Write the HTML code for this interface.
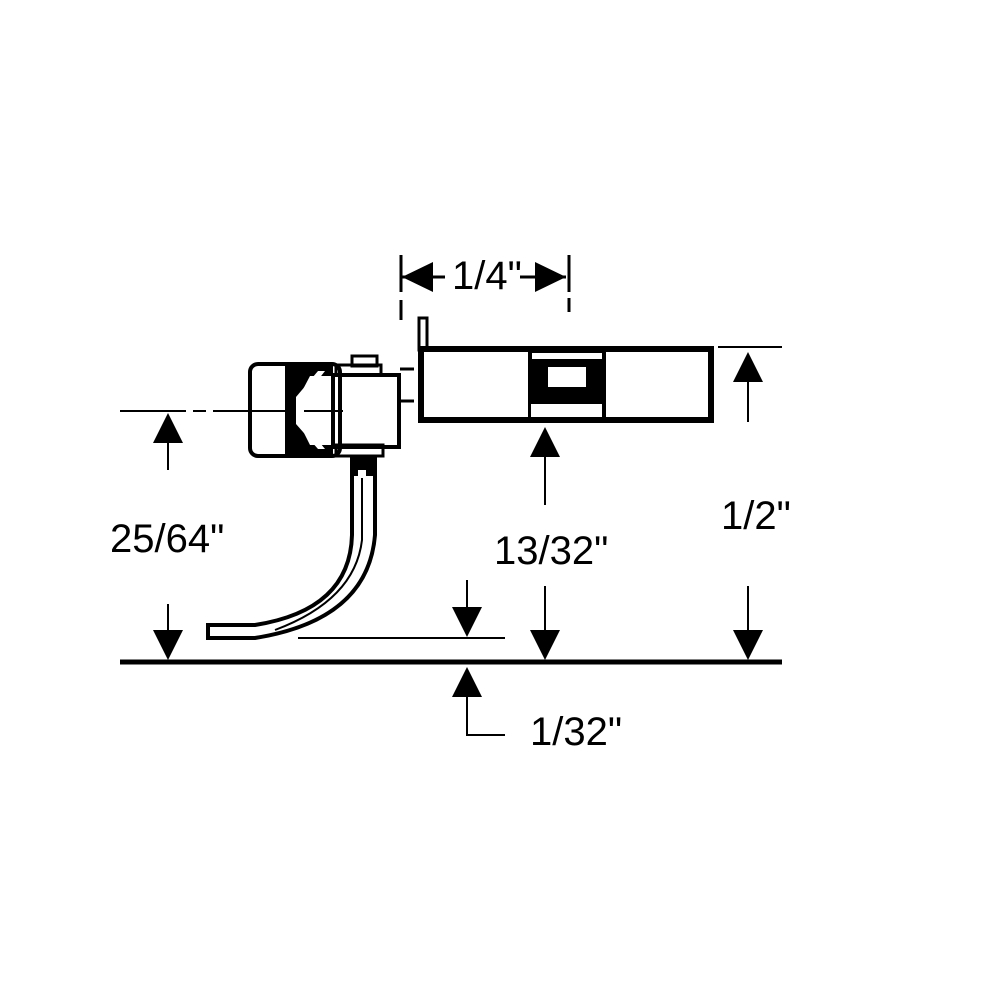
<!DOCTYPE html>
<html><head><style>html,body{margin:0;padding:0;background:#fff;}svg{display:block}</style></head>
<body>
<svg width="1000" height="1000" viewBox="0 0 1000 1000" xmlns="http://www.w3.org/2000/svg">
<defs>
<polygon id="up" points="0,0 15,30 -15,30"/>
<polygon id="dn" points="0,0 15,-30 -15,-30"/>
</defs>
<g fill="none" stroke="#000">
<line x1="120" y1="662" x2="782" y2="662" stroke-width="5"/>
<line x1="298" y1="638" x2="505" y2="638" stroke-width="2"/>
<rect x="421" y="349" width="290" height="71" stroke-width="6"/>
<rect x="419" y="318" width="8" height="32" stroke-width="3"/>
<rect x="250" y="364" width="90" height="92" rx="8" stroke-width="4"/>
<rect x="333" y="375" width="66" height="72" stroke-width="4"/>
<rect x="352" y="356" width="25" height="10" stroke-width="3"/>
<rect x="336" y="365" width="45" height="10" stroke-width="3"/>
<rect x="336" y="445" width="47" height="11" stroke-width="3"/>
<line x1="400" y1="369" x2="414" y2="369" stroke-width="3"/>
<line x1="400" y1="401" x2="414" y2="401" stroke-width="3"/>
<path d="M352,458 L352,535 Q350,610 255,625 L208,625 L208,638 L255,638 Q368,620 375,535 L375,458" stroke-width="4" fill="#fff"/>
<path d="M362,475 L362,540 Q355,600 275,630" stroke-width="2"/>
<path d="M120,411 H186 M193,411 H206 M213,411 H343" stroke-width="2"/>
<path d="M401,255 V292 M401,300 V320" stroke-width="3"/>
<path d="M569,255 V292 M569,298 V312" stroke-width="3"/>
<line x1="402" y1="277" x2="445" y2="277" stroke-width="3"/>
<line x1="520" y1="277" x2="566" y2="277" stroke-width="3"/>
<line x1="718" y1="347" x2="782" y2="347" stroke-width="2"/>
<line x1="748" y1="380" x2="748" y2="422" stroke-width="2"/>
<line x1="748" y1="586" x2="748" y2="632" stroke-width="2"/>
<line x1="545" y1="455" x2="545" y2="505" stroke-width="2"/>
<line x1="545" y1="586" x2="545" y2="632" stroke-width="2"/>
<line x1="168" y1="440" x2="168" y2="470" stroke-width="2"/>
<line x1="168" y1="604" x2="168" y2="632" stroke-width="2"/>
<line x1="467" y1="580" x2="467" y2="612" stroke-width="2"/>
<path d="M467,695 V735 H505" stroke-width="2"/>
</g>
<g fill="#000">
<rect x="350" y="456" width="27" height="20"/>
<rect x="358" y="470" width="8" height="8" fill="#fff"/>
<polygon points="285,366 333,366 333,376 310,376 300,395 300,425 310,445 333,445 333,455 285,455"/>
<polygon points="318,371 325,371 304,398 304,423 325,449 318,449 296,424 296,397" fill="#fff"/>
<rect x="528" y="352" width="78" height="66"/>
<rect x="532" y="353" width="70" height="6" fill="#fff"/>
<rect x="548" y="367" width="38" height="20" fill="#fff"/>
<rect x="531" y="404" width="71" height="13" fill="#fff"/>
<polygon points="402,277 433,262 433,292"/>
<polygon points="566,277 535,262 535,292"/>
<use href="#up" x="748" y="352"/>
<use href="#dn" x="748" y="660"/>
<use href="#up" x="545" y="427"/>
<use href="#dn" x="545" y="660"/>
<use href="#up" x="168" y="413"/>
<use href="#dn" x="168" y="660"/>
<use href="#dn" x="467" y="637"/>
<use href="#up" x="467" y="667"/>
</g>
<g font-family="Liberation Sans, Arial, sans-serif" font-size="40" fill="#000">
<text x="452" y="289">1/4"</text>
<text x="721" y="529">1/2"</text>
<text x="494" y="564">13/32"</text>
<text x="110" y="552">25/64"</text>
<text x="530" y="745">1/32"</text>
</g>
</svg>
</body></html>
